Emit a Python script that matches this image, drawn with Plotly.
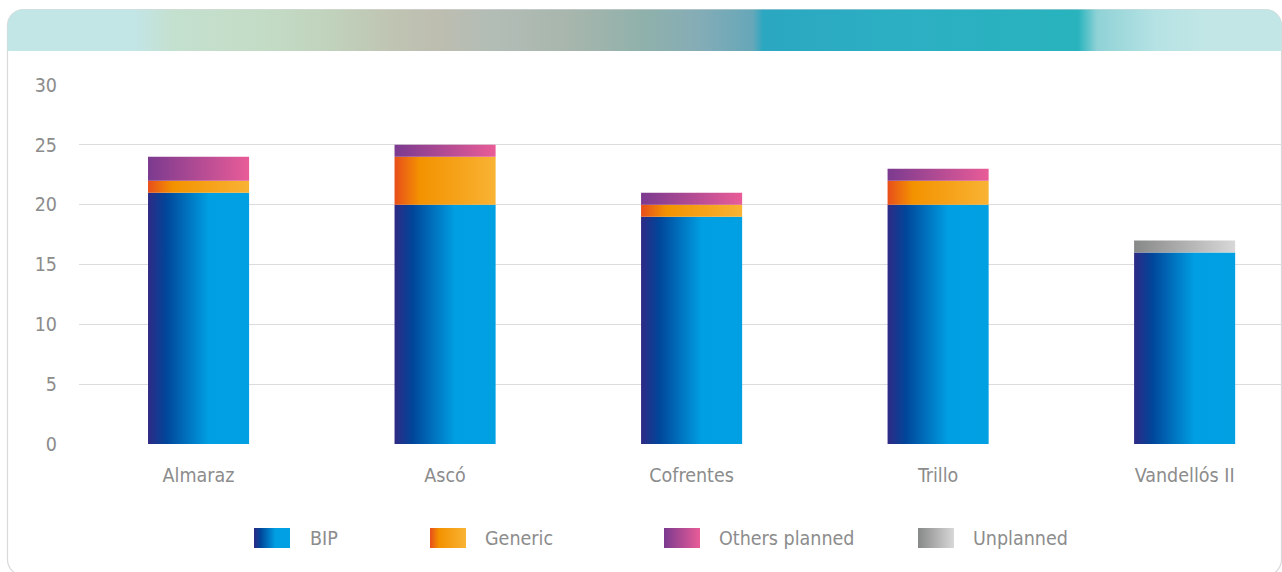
import base64
import plotly.graph_objects as go

# ---------------- data ----------------
categories = ["Almaraz", "Ascó", "Cofrentes", "Trillo", "Vandellós II"]
series_names = ["BIP", "Generic", "Others planned", "Unplanned"]
bip = [21, 20, 19, 20, 16]
generic = [1, 4, 1, 2, 0]
others_planned = [2, 1, 1, 1, 0]
unplanned = [0, 0, 0, 0, 1]
y_ticks = [0, 5, 10, 15, 20, 25, 30]

# ---------------- styles ----------------
W, H = 1282, 572
ML, MR, MT, MB = 79, 0, 85, 128
PW, PH = W - ML - MR, H - MT - MB
FONT = "DejaVu Sans Condensed, Liberation Sans, sans-serif"
FS = 19.5
TXT = "#8c8c8c"
GRID = "#dcdcdc"
BAR_W = 0.41

gradients = {
    "BIP": [[0, "#2e2a85"], [0.18, "#00469a"], [0.6, "#009fe3"], [1, "#00a0e3"]],
    "Generic": [[0, "#e84e1b"], [0.25, "#f39200"], [1, "#f9b334"]],
    "Others planned": [[0, "#7b3a8f"], [1, "#e95c98"]],
    "Unplanned": [[0, "#878888"], [1, "#d8d8d8"]],
}
legend_pos = {  # swatch left x, text left x (pixels)
    "BIP": (254, 308),
    "Generic": (430, 483),
    "Others planned": (664, 717),
    "Unplanned": (918, 971),
}
LEG_Y, LEG_H, LEG_W = 528, 20, 36

values = {"BIP": bip, "Generic": generic, "Others planned": others_planned, "Unplanned": unplanned}


def px_x(p):
    return (p - ML) / PW


def px_y(p):
    return (H - MB - p) / PH


fig = go.Figure()
for i, cat in enumerate(categories):
    base = 0
    for name in series_names:
        v = values[name][i]
        if v <= 0:
            continue
        x0, x1 = i - BAR_W / 2, i + BAR_W / 2
        fig.add_trace(go.Scatter(
            x=[x0, x1, x1, x0, x0],
            y=[base, base, base + v, base + v, base],
            mode="lines", line=dict(width=0),
            fill="toself",
            fillgradient=dict(type="horizontal", colorscale=gradients[name]),
            name=name, showlegend=False,
            hoveron="fills", hoverinfo="text",
            text=f"{cat}<br>{name}: {v}",
        ))
        base += v

# ---------------- background svg (card, banner, legend swatches) ----------------
banner_stops = [
    (0.00, "#c2e5e6"), (0.10, "#c2e5e6"), (0.13, "#c4e0cf"), (0.20, "#c3dcc6"),
    (0.25, "#c1d3bc"), (0.30, "#bfc5b2"), (0.34, "#bdbdb0"), (0.38, "#b2bdb6"),
    (0.44, "#a8b6ad"), (0.50, "#8fb1ab"), (0.54, "#86adb6"), (0.585, "#66a7b9"),
    (0.593, "#2ba7c1"), (0.70, "#2cafc3"), (0.84, "#28b3bd"), (0.855, "#8fd2d6"),
    (0.90, "#b5e2e4"), (0.94, "#c2e6e6"), (1.00, "#c2e6e6"),
]
defs = ["<linearGradient id='bn' gradientUnits='userSpaceOnUse' x1='7' y1='0' x2='1282' y2='0'>"]
defs += [f"<stop offset='{o}' stop-color='{c}'/>" for o, c in banner_stops]
defs.append("</linearGradient>")
for k, name in enumerate(series_names):
    defs.append(f"<linearGradient id='lg{k}' x1='0' y1='0' x2='1' y2='0'>")
    defs += [f"<stop offset='{o}' stop-color='{c}'/>" for o, c in gradients[name]]
    defs.append("</linearGradient>")
defs.append("<clipPath id='cp'><rect x='7.5' y='9.5' width='1274' height='566' rx='16'/></clipPath>")
body = [
    "<rect x='7.5' y='9.5' width='1274' height='566' rx='16' fill='#ffffff' stroke='#d9d9d9' stroke-width='1.2'/>",
    "<rect x='7' y='9' width='1276' height='42' fill='url(#bn)' clip-path='url(#cp)'/>",
]
for k, name in enumerate(series_names):
    sx, _ = legend_pos[name]
    body.append(f"<rect x='{sx}' y='{LEG_Y}' width='{LEG_W}' height='{LEG_H}' fill='url(#lg{k})'/>")
svg = (f"<svg xmlns='http://www.w3.org/2000/svg' width='{W}' height='{H}' viewBox='0 0 {W} {H}'>"
       f"<defs>{''.join(defs)}</defs>{''.join(body)}</svg>")
src = "data:image/svg+xml;base64," + base64.b64encode(svg.encode("utf-8")).decode("ascii")

annotations = []
for name in series_names:
    _, tx = legend_pos[name]
    annotations.append(dict(
        x=px_x(tx), y=px_y(LEG_Y + LEG_H / 2), xref="paper", yref="paper",
        xanchor="left", yanchor="middle", text=name, showarrow=False,
        font=dict(family=FONT, size=FS, color=TXT),
    ))

fig.update_layout(
    width=W, height=H,
    margin=dict(l=ML, r=MR, t=MT, b=MB, pad=0),
    paper_bgcolor="#ffffff", plot_bgcolor="rgba(0,0,0,0)",
    font=dict(family=FONT, size=FS, color=TXT),
    showlegend=False,
    images=[dict(source=src, xref="paper", yref="paper",
                 x=px_x(0), y=px_y(0), sizex=W / PW, sizey=H / PH,
                 xanchor="left", yanchor="top", sizing="stretch", layer="below")],
    annotations=annotations,
    xaxis=dict(range=[-0.485, 4.395], tickmode="array", tickvals=list(range(len(categories))),
               ticktext=categories, showgrid=False, zeroline=False, showline=False,
               ticks="", ticklabelstandoff=17, fixedrange=True),
    yaxis=dict(range=[0, 30], tickmode="array", tickvals=y_ticks, ticktext=[str(t) for t in y_ticks],
               showgrid=True, gridcolor=GRID, gridwidth=1, zeroline=False, showline=False,
               ticks="", ticklabelstandoff=21, fixedrange=True),
)

fig.write_html("out.html")
